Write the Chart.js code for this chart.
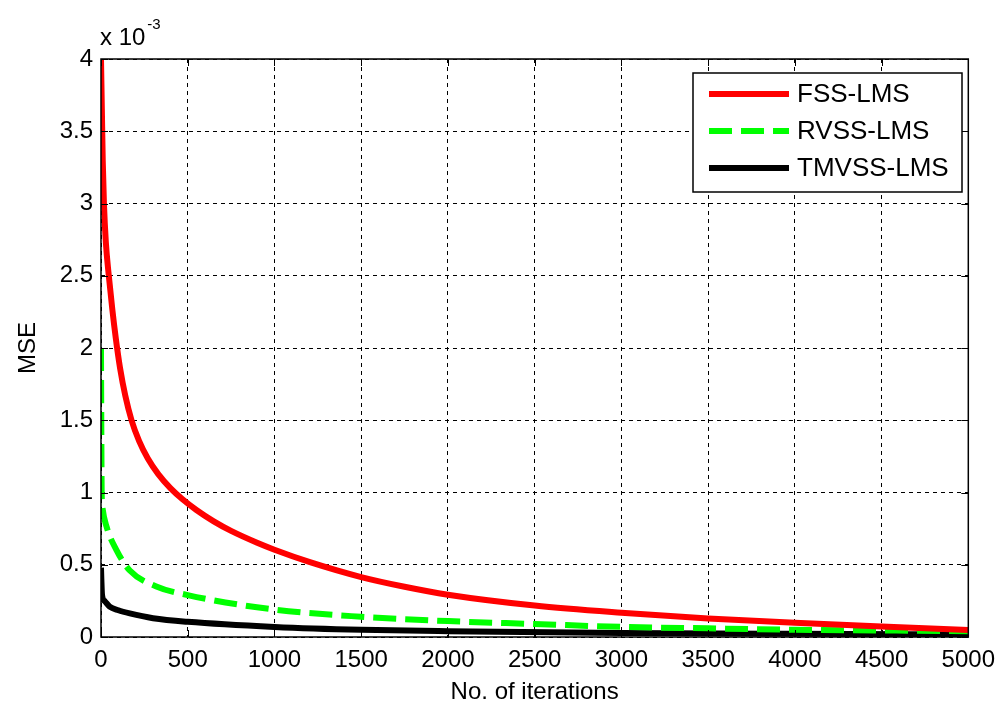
<!DOCTYPE html>
<html>
<head>
<meta charset="utf-8">
<title>MSE convergence</title>
<script src="https://cdn.jsdelivr.net/npm/chart.js@4.4.1/dist/chart.umd.min.js"></script>
<style>
  html, body { margin: 0; padding: 0; background: #ffffff; }
  #wrap { width: 1004px; height: 704px; }
</style>
</head>
<body>
<div id="wrap"><canvas id="mse" width="1004" height="704"></canvas></div>
<script>
// Axis ticks (MSE values are in units of 1e-3)
const xTicks = [0, 500, 1000, 1500, 2000, 2500, 3000, 3500, 4000, 4500, 5000];
const yTicks = [0, 0.5, 1, 1.5, 2, 2.5, 3, 3.5, 4];

// FSS-LMS learning curve
const fssIter = [0, 5, 10, 17, 28, 45, 65, 85, 110, 140, 176, 220, 270, 330, 400, 470, 550, 650, 750, 900, 1000, 1200, 1500, 1750, 2000, 2500, 3000, 3500, 4000, 4500, 5000];
const fssMse  = [4.0, 3.65, 3.3, 3.0, 2.73, 2.5, 2.27, 2.07, 1.86, 1.67, 1.5, 1.355, 1.235, 1.127, 1.03, 0.953, 0.879, 0.8, 0.734, 0.652, 0.604, 0.52, 0.415, 0.348, 0.293, 0.218, 0.168, 0.128, 0.098, 0.073, 0.048];

// RVSS-LMS learning curve
const rvssIter = [0, 2, 4, 8, 33, 90, 166, 319, 500, 1000, 1500, 2000, 2500, 3000, 3500, 4000, 4500, 5000];
const rvssMse  = [2.0, 1.4, 1.0, 0.9, 0.76, 0.6, 0.46, 0.35, 0.29, 0.19, 0.14, 0.11, 0.09, 0.07, 0.06, 0.05, 0.045, 0.04];

// TMVSS-LMS learning curve
const tmvssIter = [0, 2, 6, 20, 50, 100, 166, 300, 500, 1000, 1500, 2000, 3000, 4000, 5000];
const tmvssMse  = [0.48, 0.4, 0.29, 0.25, 0.21, 0.185, 0.163, 0.13, 0.105, 0.07, 0.05, 0.04, 0.028, 0.022, 0.018];

const seriesNames = ['FSS-LMS', 'RVSS-LMS', 'TMVSS-LMS'];

const FONT = 'Liberation Sans, Arial, sans-serif';

function pts(xs, ys) { return xs.map((x, i) => ({ x: x, y: ys[i] })); }

// Plot frame, inward tick marks, exponent label and legend box
const framePlugin = {
  id: 'frame',
  afterDatasetsDraw(chart) {
    const { ctx, chartArea: a, scales: { x, y } } = chart;
    ctx.save();
    ctx.strokeStyle = '#000';
    ctx.lineWidth = 1;
    ctx.setLineDash([]);
    ctx.beginPath();
    const tl = 7;
    xTicks.forEach(v => {
      const px = Math.round(x.getPixelForValue(v)) + 0.5;
      ctx.moveTo(px, a.bottom); ctx.lineTo(px, a.bottom - tl);
      ctx.moveTo(px, a.top); ctx.lineTo(px, a.top + tl);
    });
    yTicks.forEach(v => {
      const py = Math.round(y.getPixelForValue(v)) + 0.5;
      ctx.moveTo(a.left, py); ctx.lineTo(a.left + tl, py);
      ctx.moveTo(a.right, py); ctx.lineTo(a.right - tl, py);
    });
    ctx.stroke();
    ctx.lineWidth = 1.5;
    ctx.strokeRect(a.left, a.top, a.right - a.left, a.bottom - a.top);

    // exponent of the y axis
    ctx.fillStyle = '#000';
    ctx.textBaseline = 'alphabetic';
    ctx.textAlign = 'left';
    ctx.font = '24px ' + FONT;
    ctx.fillText('x 10', a.left - 1, a.top - 14);
    const w = ctx.measureText('x 10').width;
    ctx.font = '15px ' + FONT;
    ctx.fillText('-3', a.left - 1 + w + 2, a.top - 30);

    // legend
    const lx = 693, ly = 73, lw = 269, lh = 119;
    ctx.fillStyle = '#fff';
    ctx.fillRect(lx, ly, lw, lh);
    ctx.lineWidth = 1.5;
    ctx.strokeStyle = '#000';
    ctx.strokeRect(lx, ly, lw, lh);
    const rows = [94, 131, 168];
    chart.data.datasets.forEach((ds, i) => {
      ctx.beginPath();
      ctx.strokeStyle = ds.borderColor;
      ctx.lineWidth = ds.borderWidth;
      ctx.setLineDash(ds.borderDash || []);
      ctx.moveTo(709, rows[i]); ctx.lineTo(789, rows[i]);
      ctx.stroke();
      ctx.setLineDash([]);
      ctx.fillStyle = '#000';
      ctx.font = '26px ' + FONT;
      ctx.textBaseline = 'middle';
      ctx.fillText(ds.label, 797, rows[i] + 1);
    });
    ctx.restore();
  }
};

new Chart(document.getElementById('mse'), {
  type: 'line',
  data: {
    datasets: [
      { label: seriesNames[0], data: pts(fssIter, fssMse), borderColor: '#ff0000', borderWidth: 6, pointRadius: 0, cubicInterpolationMode: 'monotone' },
      { label: seriesNames[1], data: pts(rvssIter, rvssMse), borderColor: '#00ff00', borderWidth: 6, borderDash: [23, 9], pointRadius: 0, cubicInterpolationMode: 'monotone' },
      { label: seriesNames[2], data: pts(tmvssIter, tmvssMse), borderColor: '#000000', borderWidth: 6, pointRadius: 0, cubicInterpolationMode: 'monotone' }
    ]
  },
  options: {
    responsive: false,
    devicePixelRatio: 1,
    animation: false,
    layout: { padding: { left: 0, top: 59, right: 31, bottom: 0 } },
    plugins: { legend: { display: false }, tooltip: { enabled: false } },
    scales: {
      x: {
        type: 'linear', min: 0, max: 5000,
        afterBuildTicks: s => { s.ticks = xTicks.map(v => ({ value: v })); },
        afterFit: s => { s.height = 67; },
        ticks: { color: '#000', padding: 9, maxRotation: 0, callback: v => String(v), font: { family: FONT, size: 24 } },
        grid: { color: '#000', lineWidth: 1, drawTicks: false },
        border: { display: false, dash: [4, 4] },
        title: { display: true, text: 'No. of iterations', color: '#000', padding: { top: 0, bottom: -3 }, font: { family: FONT, size: 24 } }
      },
      y: {
        type: 'linear', min: 0, max: 4,
        afterBuildTicks: s => { s.ticks = yTicks.map(v => ({ value: v })); },
        afterFit: s => { s.width = 101; },
        ticks: { color: '#000', padding: 8, callback: v => String(v), font: { family: FONT, size: 24 } },
        grid: { color: '#000', lineWidth: 1, drawTicks: false },
        border: { display: false, dash: [4, 4] },
        title: { display: true, text: 'MSE', color: '#000', padding: { top: 14, bottom: 0 }, font: { family: FONT, size: 24 } }
      }
    }
  },
  plugins: [framePlugin]
});
</script>
</body>
</html>
